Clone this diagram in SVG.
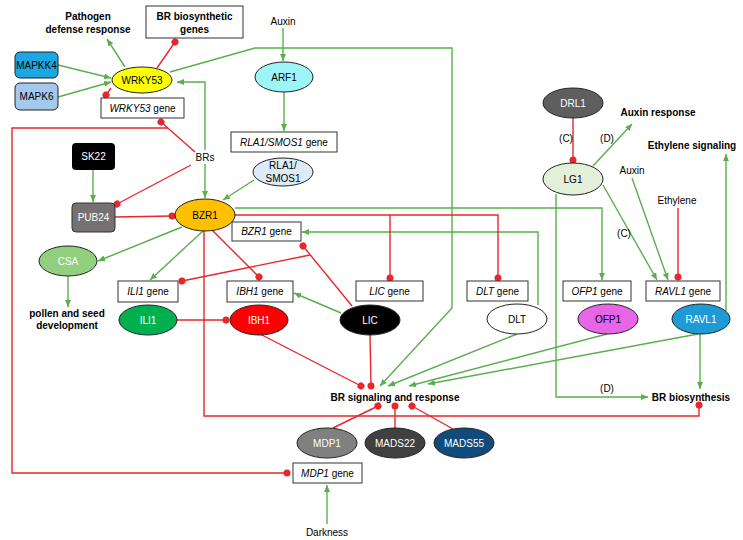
<svg xmlns="http://www.w3.org/2000/svg" width="743" height="540" viewBox="0 0 743 540">
<style>
text{font-family:"Liberation Sans",Arial,sans-serif;font-size:10px;fill:#000;text-anchor:middle}
.b{font-weight:bold}
.w{fill:#fff}
.i{font-style:italic}
.g{stroke:#5aae4e;stroke-width:1.4;fill:none;marker-end:url(#ga)}
.r{stroke:#e8262b;stroke-width:1.4;fill:none;marker-end:url(#rd)}
.rn{stroke:#e8262b;stroke-width:1.4;fill:none}
.box{fill:#fff;stroke:#333;stroke-width:1}
.el{stroke:#222;stroke-width:1}
</style>
<defs>
<marker id="ga" markerUnits="userSpaceOnUse" markerWidth="8" markerHeight="7" refX="7" refY="3" orient="auto-start-reverse"><path d="M0,0 L7,3 L0,6 z" fill="#5aae4e"/></marker>
<marker id="rd" markerUnits="userSpaceOnUse" markerWidth="8" markerHeight="8" refX="4" refY="4" orient="auto"><circle cx="4" cy="4" r="3.5" fill="#e8262b"/></marker>
</defs>
<rect width="743" height="540" fill="#fff"/>
<g id="connectors">
<path class="g" d="M58,65 L111,78"/>
<path class="g" d="M58,97 L111,82"/>
<path class="g" d="M125,67 L107,39"/>
<path class="g" d="M170,72 L255,48 L452,48 L452,308 L380,386"/>
<path class="g" style="marker-end:none;marker-start:url(#ga)" d="M177,82 L205,82 L205,150"/>
<path class="g" d="M205,164 L205,198"/>
<path class="g" d="M283,28 L283,61"/>
<path class="g" d="M284,92 L284,131"/>
<path class="g" d="M254,180 L223,200"/>
<path class="g" d="M93,170 L93,202"/>
<path class="g" d="M182,227 L98,261"/>
<path class="g" d="M68,276 L68,307"/>
<path class="g" d="M203,231 L150,280"/>
<path class="g" d="M341,313 L294,293"/>
<path class="g" d="M235,208 L602,208 L602,280"/>
<path class="g" d="M538,305 L538,232 L302,232"/>
<path class="g" d="M517,334 L388,386"/>
<path class="g" d="M607,334 L409,386"/>
<path class="g" d="M698,334 L428,384"/>
<path class="g" d="M593,166 L632,124"/>
<path class="g" d="M603,185 L657,280"/>
<path class="g" d="M632,178 L668,280"/>
<path class="g" d="M726,311 L726,154"/>
<path class="g" d="M700,334 L700,389"/>
<path class="g" d="M556,194 L556,397 L648,397"/>
<path class="g" d="M327,524 L327,485"/>
<path class="r" d="M157,68 L175,42"/>
<path class="r" d="M111,88 L106,95"/>
<path class="r" d="M195,152 L161,122"/>
<path class="r" d="M168,128 L12,128 L12,473 L287,473"/>
<path class="r" d="M191,165 L117,204"/>
<path class="r" d="M115,217 L172,216"/>
<path class="r" d="M204,231 L204,416 L699,416 L699,405"/>
<path class="r" d="M212,230 L259,277"/>
<path class="r" d="M235,215 L498,215 L498,278"/>
<path class="r" d="M390,215 L390,278"/>
<path class="r" d="M177,320 L226,320"/>
<path class="r" d="M352,306 L303,246"/>
<path class="r" d="M310,255 L182,281"/>
<path class="r" d="M370,335 L371,386"/>
<path class="r" d="M260,334 L361,386"/>
<path class="r" d="M333,428 L378,406"/>
<path class="r" d="M395,428 L395,406"/>
<path class="r" d="M453,429 L412,406"/>
<path class="r" d="M573,118 L573,160"/>
<path class="r" d="M678,208 L678,277"/>
</g>
<g id="labels">
<text class="b" x="88" y="19.5">Pathogen</text>
<text class="b" x="88" y="32.5">defense response</text>
<text x="283" y="24.5">Auxin</text>
<text x="205" y="160.5">BRs</text>
<text class="b" x="67" y="316.5">pollen and seed</text>
<text class="b" x="67" y="328.5">development</text>
<text class="b" x="395" y="400.5">BR signaling and response</text>
<text class="b" x="691" y="400.5">BR biosynthesis</text>
<text x="327" y="535.5">Darkness</text>
<text class="b" x="658" y="116">Auxin response</text>
<text class="b" x="692" y="148.5">Ethylene signaling</text>
<text x="632" y="173.5">Auxin</text>
<text x="677" y="203.5">Ethylene</text>
<text x="566" y="141.5">(C)</text>
<text x="607" y="141.5">(D)</text>
<text x="624" y="236.5">(C)</text>
<text x="607" y="391.5">(D)</text>
</g>
<g id="BRbiogenes"><rect class="box" x="146" y="6" width="97" height="32"/><text class="b" x="194.5" y="19.5">BR biosynthetic</text><text class="b" x="194.5" y="32.5">genes</text></g>
<g id="MAPKK4"><rect x="15" y="52" width="43" height="26" rx="5" fill="#1ca6e2" stroke="#222"/><text x="36.5" y="68.5">MAPKK4</text></g>
<g id="MAPK6"><rect x="15" y="83" width="43" height="27" rx="5" fill="#a4c9ec" stroke="#222"/><text x="36.5" y="100">MAPK6</text></g>
<g id="WRKY53"><ellipse class="el" cx="142" cy="80" rx="30" ry="13" fill="#ffff00"/><text x="142" y="83.5">WRKY53</text></g>
<g id="WRKY53gene"><rect class="box" x="101" y="98" width="83" height="20"/><text x="142.5" y="111.5"><tspan class="i">WRKY53</tspan> gene</text></g>
<g id="SK22"><rect x="72" y="143" width="43" height="27" rx="4" fill="#000"/><text class="w" x="93.5" y="160">SK22</text></g>
<g id="PUB24"><rect x="72" y="203" width="43" height="29" rx="4" fill="#767171" stroke="#333"/><text class="w" x="93.5" y="221">PUB24</text></g>
<g id="ARF1"><ellipse class="el" cx="284" cy="77" rx="29" ry="15" fill="#9ef5f5"/><text x="284" y="80.5">ARF1</text></g>
<g id="RLA1gene"><rect class="box" x="231" y="132" width="106" height="20"/><text x="284" y="145.5"><tspan class="i">RLA1/SMOS1</tspan> gene</text></g>
<g id="RLA1"><ellipse class="el" cx="283" cy="172" rx="30" ry="14" fill="#ddebf7"/><text x="283" y="169">RLA1/</text><text x="283" y="182">SMOS1</text></g>
<g id="BZR1"><ellipse class="el" cx="205" cy="215" rx="30" ry="16" fill="#ffc000"/><text x="205" y="218.5">BZR1</text></g>
<g id="BZR1gene"><rect class="box" x="232" y="222" width="69" height="19"/><text x="266.5" y="235"><tspan class="i">BZR1</tspan> gene</text></g>
<g id="CSA"><ellipse class="el" cx="68" cy="261" rx="29" ry="15" fill="#92d080"/><text class="w" x="68" y="264.5">CSA</text></g>
<g id="ILI1gene"><rect class="box" x="118" y="281" width="60" height="21"/><text x="148" y="295"><tspan class="i">ILI1</tspan> gene</text></g>
<g id="IBH1gene"><rect class="box" x="227" y="281" width="66" height="21"/><text x="260" y="295"><tspan class="i">IBH1</tspan> gene</text></g>
<g id="LICgene"><rect class="box" x="356" y="281" width="67" height="20"/><text x="389.5" y="294.5"><tspan class="i">LIC</tspan> gene</text></g>
<g id="DLTgene"><rect class="box" x="467" y="281" width="61" height="20"/><text x="497.5" y="294.5"><tspan class="i">DLT</tspan> gene</text></g>
<g id="OFP1gene"><rect class="box" x="563" y="281" width="68" height="20"/><text x="597" y="294.5"><tspan class="i">OFP1</tspan> gene</text></g>
<g id="RAVL1gene"><rect class="box" x="646" y="281" width="74" height="20"/><text x="683" y="294.5"><tspan class="i">RAVL1</tspan> gene</text></g>
<g id="ILI1"><ellipse class="el" cx="148" cy="320" rx="29" ry="15" fill="#00b050"/><text class="w" x="148" y="323.5">ILI1</text></g>
<g id="IBH1"><ellipse class="el" cx="259" cy="320" rx="29" ry="15" fill="#ff0000"/><text class="w" x="259" y="323.5">IBH1</text></g>
<g id="LIC"><ellipse class="el" cx="370" cy="320" rx="30" ry="15" fill="#000"/><text class="w" x="370" y="323.5">LIC</text></g>
<g id="DLT"><ellipse class="el" cx="517" cy="319" rx="30" ry="15" fill="#fff"/><text x="517" y="322.5">DLT</text></g>
<g id="OFP1"><ellipse class="el" cx="608" cy="319" rx="30" ry="15" fill="#e865e8"/><text x="608" y="322.5" fill="#222">OFP1</text></g>
<g id="RAVL1"><ellipse class="el" cx="701" cy="319" rx="29" ry="15" fill="#1e9bd7"/><text class="w" x="701" y="322.5">RAVL1</text></g>
<g id="DRL1"><ellipse class="el" cx="573" cy="103" rx="30" ry="15" fill="#5e5e5e"/><text class="w" x="573" y="106.5">DRL1</text></g>
<g id="LG1"><ellipse class="el" cx="573" cy="179" rx="30" ry="16" fill="#e2f0d9"/><text x="573" y="182.5">LG1</text></g>
<g id="MDP1"><ellipse class="el" cx="327" cy="443" rx="30" ry="15" fill="#808080"/><text class="w" x="327" y="446.5">MDP1</text></g>
<g id="MADS22"><ellipse class="el" cx="395" cy="443" rx="30" ry="15" fill="#404040"/><text class="w" x="395" y="446.5">MADS22</text></g>
<g id="MADS55"><ellipse class="el" cx="464" cy="443" rx="30" ry="15" fill="#114b7c"/><text class="w" x="464" y="446.5">MADS55</text></g>
<g id="MDP1gene"><rect class="box" x="293" y="463" width="69" height="20"/><text x="327.5" y="476.5"><tspan class="i">MDP1</tspan> gene</text></g>
</svg>
